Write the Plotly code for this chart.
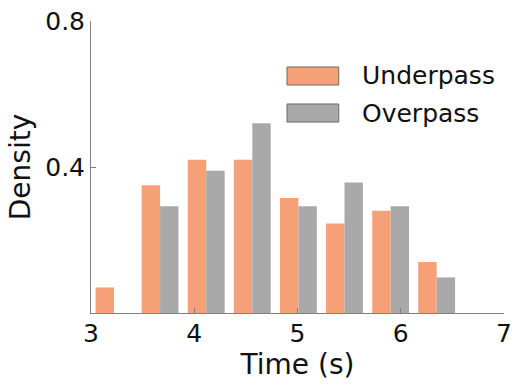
import plotly.graph_objects as go

# Histogram bin centres (s) and normalised densities per bin
bin_centers = [3.223, 3.669, 4.116, 4.562, 5.009, 5.455, 5.902, 6.348]
underpass_density = [0.070, 0.350, 0.420, 0.420, 0.315, 0.245, 0.280, 0.140]
overpass_density = [0.000, 0.2925, 0.390, 0.520, 0.2925, 0.3575, 0.2925, 0.0975]

x_ticks = [3, 4, 5, 6, 7]
y_ticks = [0.4, 0.8]
series_names = ["Underpass", "Overpass"]

ORANGE = "#F5A077"
GRAY = "#A9A9A9"
AXIS_GRAY = "#808080"
FONT = "DejaVu Sans"

fig = go.Figure()
fig.add_trace(go.Bar(x=bin_centers, y=underpass_density, name=series_names[0],
                     marker=dict(color=ORANGE, line=dict(width=0))))
fig.add_trace(go.Bar(x=bin_centers, y=overpass_density, name=series_names[1],
                     marker=dict(color=GRAY, line=dict(width=0))))

# Hand-drawn legend with wide patches
legend_rows = [
    (series_names[0], ORANGE, 0.8425, 0.7808),
    (series_names[1], GRAY, 0.7158, 0.6540),
]
shapes = []
annotations = []
for name, color, y1, y0 in legend_rows:
    shapes.append(dict(type="rect", xref="paper", yref="paper",
                       x0=0.4746, x1=0.5999, y0=y0, y1=y1,
                       fillcolor=color, line=dict(color="#6a6a6a", width=1)))
    annotations.append(dict(xref="paper", yref="paper", x=0.652, y=(y0 + y1) / 2,
                            text=name, showarrow=False, xanchor="left",
                            yanchor="middle",
                            font=dict(family=FONT, size=25, color="#111111")))

fig.update_layout(
    width=513, height=384,
    margin=dict(l=91, r=9, t=21, b=71, autoexpand=False),
    paper_bgcolor="white", plot_bgcolor="white",
    barmode="group", bargap=0.2, bargroupgap=0,
    showlegend=False,
    shapes=shapes, annotations=annotations,
    font=dict(family=FONT, size=24, color="#111111"),
)
fig.update_xaxes(
    range=[3, 7], tickvals=x_ticks, ticktext=[str(v) for v in x_ticks],
    automargin=False,
    showgrid=False, zeroline=False,
    showline=True, linecolor=AXIS_GRAY, linewidth=1,
    ticks="inside", ticklen=5, tickcolor=AXIS_GRAY,
    ticklabelstandoff=-2,
    tickfont=dict(family=FONT, size=25, color="#111111"),
    title=dict(text="Time (s)", font=dict(family=FONT, size=28, color="#111111"),
               standoff=0),
)
fig.update_yaxes(
    range=[0, 0.8], tickvals=y_ticks, ticktext=["0.4", "0.8"],
    automargin=False,
    showgrid=False, zeroline=False,
    showline=True, linecolor=AXIS_GRAY, linewidth=1,
    ticks="inside", ticklen=5, tickcolor=AXIS_GRAY,
    tickfont=dict(family=FONT, size=25, color="#111111"),
    title=dict(text="Density", font=dict(family=FONT, size=28, color="#111111"),
               standoff=6),
)

fig.write_html("out.html")
